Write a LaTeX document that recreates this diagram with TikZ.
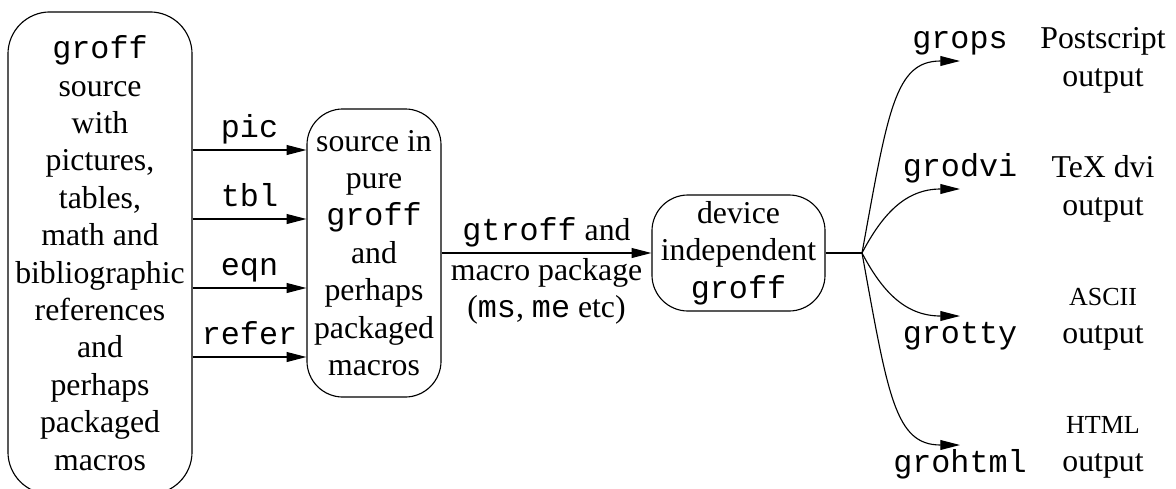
\documentclass[tikz,border=0pt]{standalone}
\usepackage{fontspec}
\setmainfont{Liberation Serif}
\setmonofont{Liberation Mono}
\usetikzlibrary{arrows.meta}

\begin{document}
\begin{tikzpicture}[x=0.025cm,y=-0.025cm,line width=0.8pt,
		font=\fontsize{22.6}{26.6}\selectfont,
		box/.style={draw,rounded corners=0.9cm,align=center,inner sep=0pt},
		arr/.style={-{Triangle[length=14pt,width=7pt]}},
		lbl/.style={inner sep=0.5pt},
		outlbl/.style={align=center,inner sep=0pt,anchor=north}]
				\useasboundingbox (0,0) rectangle (1176,488);
				
				\node[box,rounded corners=1.05cm,minimum width=4.6cm,minimum height=12.05cm] (src) at (100,253) {\texttt{groff}\\source\\with\\pictures,\\tables,\\math and\\bibliographic\\references\\and\\perhaps\\packaged\\macros};
				\node[box,minimum width=3.35cm,minimum height=7.2cm] (pure) at (374,253) {source in\\pure\\\texttt{groff}\\and\\perhaps\\packaged\\macros};
				\node[box,minimum width=4.325cm,minimum height=2.9cm] (dev) at (738.5,253) {device\\independent\\\texttt{groff}};
				
				\draw[arr] (src.east |- 0,150) -- node[lbl,above] {\strut\texttt{pic}} (pure.west |- 0,150);
				\draw[arr] (src.east |- 0,219) -- node[lbl,above] {\strut\texttt{tbl}} (pure.west |- 0,219);
				\draw[arr] (src.east |- 0,288) -- node[lbl,above] {\strut\texttt{eqn}} (pure.west |- 0,288);
				\draw[arr] (src.east |- 0,357) -- node[lbl,above] {\strut\texttt{refer}} (pure.west |- 0,357);
				
				\draw[arr] (pure) -- node[lbl,above] {\strut\texttt{gtroff} and} node[lbl,below,align=center] {\strut macro package\\(\texttt{ms}, \texttt{me} etc)} (dev);
				
				\coordinate (fork) at (862,253);
				\draw (dev) -- (fork);
				
				\node[lbl,anchor=south] (grops) at (960,61) {\strut\texttt{grops}};
				\node[lbl,anchor=south] (grodvi) at (960,189) {\strut\texttt{grodvi}};
				\node[lbl,anchor=north] (grotty) at (960,316) {\strut\texttt{grotty}};
				\node[lbl,anchor=north] (grohtml) at (960,445) {\strut\texttt{grohtml}};
				
				\draw[arr] (fork) .. controls (888,110) and (895,61) .. (grops.south);
				\draw[arr] (fork) .. controls (882,215) and (905,189) .. (grodvi.south);
				\draw[arr] (fork) .. controls (882,291) and (905,316) .. (grotty.north);
				\draw[arr] (fork) .. controls (888,396) and (895,445) .. (grohtml.north);
				
				\node[outlbl] (psout) at (1103,22) {\strut Postscript\\output};
				\node[outlbl] (dviout) at (1103,151) {\strut TeX dvi\\output};
				\node[outlbl] (asciiout) at (1103,279) {\strut{\fontsize{18.5}{26.6}\selectfont ASCII}\\output};
				\node[outlbl] (htmlout) at (1103,407) {\strut{\fontsize{18.5}{26.6}\selectfont HTML}\\output};
\end{tikzpicture}
\end{document}
